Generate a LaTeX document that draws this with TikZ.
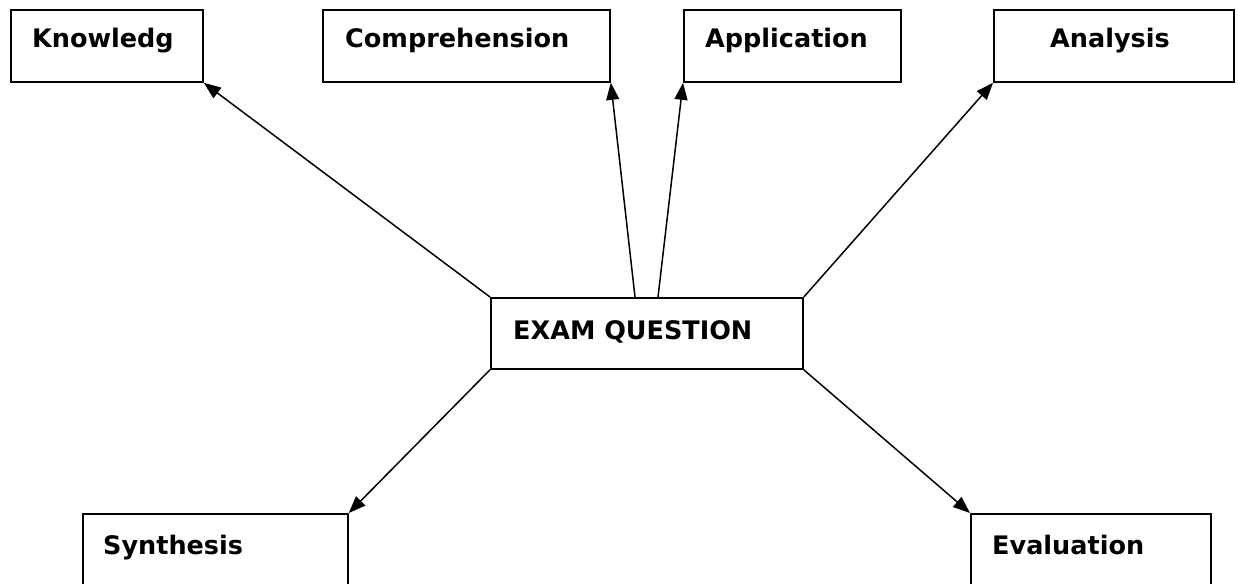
\documentclass[tikz,border=0pt]{standalone}
\usepackage{fontspec}
\setmainfont{DejaVu Sans}
\usetikzlibrary{arrows.meta,calc}
\begin{document}
\begin{tikzpicture}[x=1pt,y=-1pt,
  box/.style={draw,line width=1.8pt,rectangle,inner sep=0pt,anchor=north west},
  lbl/.style={anchor=base west,inner sep=0pt,font=\fontsize{25.5}{28}\selectfont\bfseries},
  arr/.style={line width=1.5pt,-{Triangle[length=17pt,width=13pt]}}]
\clip (0,0) rectangle (1238,583);
% boxes
\node[box,minimum width=192pt,minimum height=72pt] (know) at (10,9) {};
\node[box,minimum width=287pt,minimum height=72pt] (comp) at (322,9) {};
\node[box,minimum width=217pt,minimum height=72pt] (appl) at (683,9) {};
\node[box,minimum width=240pt,minimum height=72pt] (anal) at (993,9) {};
\node[box,minimum width=312pt,minimum height=71pt] (exam) at (490,297) {};
\node[box,minimum width=265pt,minimum height=100pt] (synt) at (82,513) {};
\node[box,minimum width=240pt,minimum height=100pt] (eval) at (970,513) {};
% labels
\node[lbl] (tknow) at (32,48) {Knowledg};
\node[lbl] (tcomp) at (345,48) {Comprehension};
\node[lbl] (tappl) at (705,48) {Application};
\node[lbl] (tanal) at (1050,48) {Analysis};
\node[lbl] (texam) at (513,339) {EXAM QUESTION};
\node[lbl] (tsynt) at (103,554) {Synthesis};
\node[lbl] (teval) at (992,554) {Evaluation};
% connectors
\coordinate (c1) at ([xshift=145pt]exam.north west);
\coordinate (c2) at ([xshift=168pt]exam.north west);
\draw[arr] (exam.north west) -- (know.south east);
\draw[arr] (c1) -- (comp.south east);
\draw[arr] (c2) -- (appl.south west);
\draw[arr] (exam.north east) -- (anal.south west);
\draw[arr] (exam.south west) -- (synt.north east);
\draw[arr] (exam.south east) -- (eval.north west);
\end{tikzpicture}
\end{document}
